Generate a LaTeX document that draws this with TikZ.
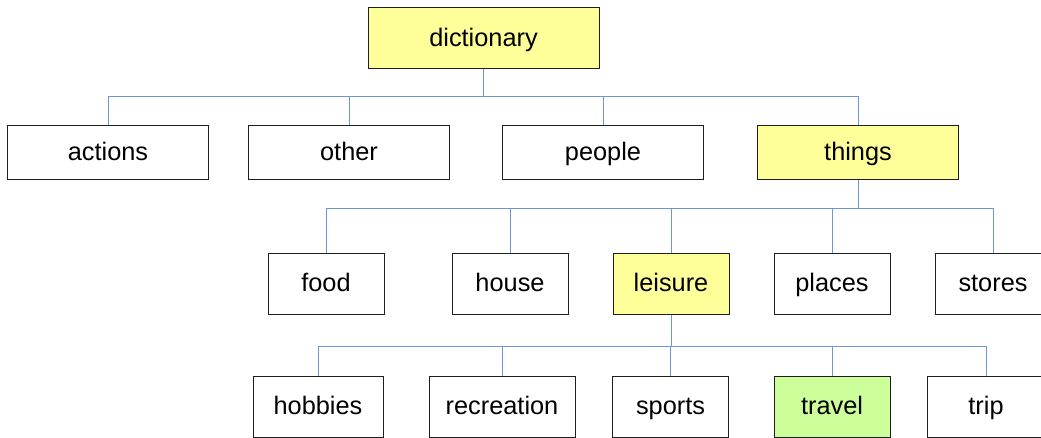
\documentclass[tikz,border=0pt]{standalone}
\usepackage{fontspec}
\setmainfont{Liberation Sans}
\tikzset{every picture/.style={line width=0.75pt}}
\tikzset{
  box/.style={draw={rgb, 255:red, 30; green, 30; blue, 30 }, fill=white, inner sep=0pt, minimum height=45.75pt, text height=12pt, text depth=0.6pt, font=\fontsize{19}{22}\selectfont},
  wide/.style={minimum width=#1*0.75pt},
  low/.style={minimum height=40.5pt},
  link/.style={draw={rgb, 255:red, 110; green, 150; blue, 210 }, line width=0.75pt},
  picked/.style={fill={rgb, 255:red, 255; green, 255; blue, 153 }},
  found/.style={fill={rgb, 255:red, 204; green, 255; blue, 153 }}
}

\begin{document}
\begin{tikzpicture}[x=0.75pt,y=0.75pt,yscale=-1,xscale=1]
\useasboundingbox (0,0) rectangle (1041,438);

% Bus points
\coordinate (busA) at (483.5,97);
\coordinate (busB) at (858,209);
\coordinate (busC) at (671,346);

% Text Node
\node [box,picked,wide=231] (dict) at (483.5,38.5) {dictionary};
% Text Node
\node [box,low,wide=201] (actions) at (108,153) {actions};
% Text Node
\node [box,low,wide=201] (other) at (349,153) {other};
% Text Node
\node [box,low,wide=201] (people) at (603,153) {people};
% Text Node
\node [box,low,picked,wide=201] (things) at (858,153) {things};

% Text Node
\node [box,wide=116] (food) at (326,283.5) {food};
% Text Node
\node [box,wide=116] (house) at (510,283.5) {house};
% Text Node
\node [box,picked,wide=116] (leisure) at (671,283.5) {leisure};
% Text Node
\node [box,wide=116] (places) at (832,283.5) {places};
% Text Node
\node [box,wide=116] (stores) at (993,283.5) {stores};

% Text Node
\node [box,wide=130] (hobbies) at (318,406.5) {hobbies};
% Text Node
\node [box,wide=146] (recreation) at (502,406.5) {recreation};
% Text Node
\node [box,wide=116] (sports) at (670.5,406.5) {sports};
% Text Node
\node [box,found,wide=116] (travel) at (832,406.5) {travel};
% Text Node
\node [box,wide=118] (trip) at (986,406.5) {trip};

% Connectors
\draw [link] (dict) -- (busA);
\foreach \kid in {actions,other,people,things}
  \draw [link] (busA) -| (\kid);
\draw [link] (things) -- (busB);
\foreach \kid in {food,house,leisure,places,stores}
  \draw [link] (busB) -| (\kid);
\draw [link] (leisure) -- (busC);
\foreach \kid in {hobbies,recreation,sports,travel,trip}
  \draw [link] (busC) -| (\kid);

\end{tikzpicture}
\end{document}
